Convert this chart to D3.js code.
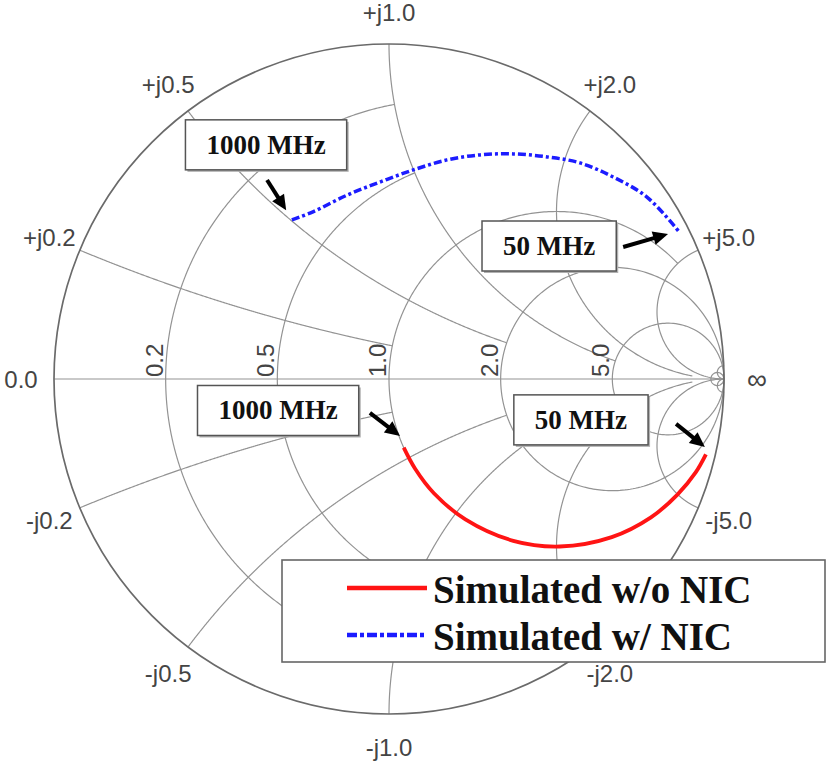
<!DOCTYPE html>
<html><head><meta charset="utf-8">
<script src="https://cdn.jsdelivr.net/npm/d3@7"></script>
<style>html,body{margin:0;padding:0;background:#fff}</style>
</head><body><svg id="c" width="827" height="764"></svg>
<script>
// ---------- data ----------
const resistanceCircles = [0.2, 0.5, 1, 2, 5, 50];
const resistanceCircleXLimit = [1, 1, 5, Infinity, Infinity, Infinity];
const reactanceArcs = [0.2, 0.5, 1, 2, 5, 50];
const reactanceArcRLimit = [1, 2, 5, 20, Infinity, Infinity];
const resistanceTickValues = [0.2, 0.5, 1, 2, 5];
const resistanceTickLabels = ["0.2", "0.5", "1.0", "2.0", "5.0"];
const reactanceTickValues = [0, 0.2, 0.5, 1, 2, 5, Infinity, -5, -2, -1, -0.5, -0.2];
const reactanceTickLabels = ["0.0", "+j0.2", "+j0.5", "+j1.0", "+j2.0", "+j5.0", "\u221E", "-j5.0", "-j2.0", "-j1.0", "-j0.5", "-j0.2"];

const woNIC_re = [0.044, 0.078, 0.134, 0.228, 0.371, 0.510, 0.665, 0.782, 0.861, 0.916, 0.946];
const woNIC_im = [-0.205, -0.268, -0.341, -0.419, -0.483, -0.500, -0.472, -0.413, -0.345, -0.278, -0.225];
const wNIC_re = [-0.290, -0.227, -0.125, -0.027, 0.072, 0.173, 0.272, 0.370, 0.472, 0.570, 0.669, 0.770, 0.869];
const wNIC_im = [0.475, 0.499, 0.549, 0.588, 0.624, 0.654, 0.669, 0.672, 0.663, 0.645, 0.603, 0.543, 0.436];

const seriesNames = ["Simulated w/o NIC", "Simulated w/ NIC"];

// annotations (in reflection-coefficient coordinates)
const annoText = ["1000 MHz", "50 MHz", "1000 MHz", "50 MHz"];
const annoBoxRe = [-0.367, 0.478, -0.331, 0.573];
const annoBoxIm = [0.699, 0.397, -0.094, -0.122];
const arrowTailRe = [-0.364, 0.699, -0.057, 0.857];
const arrowTailIm = [0.594, 0.394, -0.101, -0.134];
const arrowHeadRe = [-0.307, 0.833, 0.033, 0.943];
const arrowHeadIm = [0.504, 0.433, -0.170, -0.203];

// ---------- layout ----------
const W = 827, H = 764;
const cx = 389, cy = 379, R = 335;
const svg = d3.select("#c");
svg.append("rect").attr("width", W).attr("height", H).attr("fill", "#fff");

const xS = d3.scaleLinear().domain([-1, 1]).range([cx - R, cx + R]);
const yS = d3.scaleLinear().domain([-1, 1]).range([cy + R, cy - R]);

function gamma(r, x) {
  if (!isFinite(r)) return [1, 0];
  const d = (r + 1) * (r + 1) + x * x;
  return [(r * r - 1 + x * x) / d, 2 * x / d];
}
const line = d3.line().x(d => xS(d[0])).y(d => yS(d[1]));
const N = 500;

const grid = svg.append("g").attr("fill", "none").attr("stroke", "#939393").attr("stroke-width", 1.2);

// resistance circles
resistanceCircles.forEach((r, i) => {
  const L = resistanceCircleXLimit[i];
  const a = isFinite(L) ? Math.atan(L) : Math.PI / 2 - 1e-9;
  const pts = d3.range(N + 1).map(k => {
    const u = -a + 2 * a * k / N;
    return gamma(r, Math.tan(u));
  });
  if (!isFinite(L)) pts.push(pts[0]);
  grid.append("path").attr("d", line(pts));
});
// reactance arcs
reactanceArcs.forEach((x, i) => {
  const L = reactanceArcRLimit[i];
  const a = isFinite(L) ? Math.atan(L) : Math.PI / 2 - 1e-9;
  [x, -x].forEach(xv => {
    const pts = d3.range(N + 1).map(k => gamma(Math.tan(a * k / N), xv));
    grid.append("path").attr("d", line(pts));
  });
});
// real axis
grid.append("line").attr("x1", xS(-1)).attr("x2", xS(1)).attr("y1", yS(0)).attr("y2", yS(0));
// outer circle
svg.append("circle").attr("cx", xS(0)).attr("cy", yS(0)).attr("r", xS(1) - xS(0))
  .attr("fill", "none").attr("stroke", "#6a6a6a").attr("stroke-width", 1.7);

// ---------- labels ----------
const labelFont = "'Liberation Sans', Arial, sans-serif";
resistanceTickValues.forEach((r, i) => {
  const g = gamma(r, 0);
  const px = xS(g[0]) - 3, py = yS(0) - 2;
  svg.append("text").attr("transform", `translate(${px},${py}) rotate(-90)`)
    .attr("font-family", labelFont).attr("font-size", 24).attr("fill", "#444")
    .attr("text-anchor", "start").text(resistanceTickLabels[i]);
});
reactanceTickValues.forEach((x, i) => {
  const g = gamma(0, isFinite(x) ? x : 1e12);
  const ang = Math.atan2(g[1], g[0]);
  const rr = 1 + 33 / R;
  svg.append("text")
    .attr("x", xS(rr * Math.cos(ang))).attr("y", yS(rr * Math.sin(ang)) + (Math.abs(x) === 1 && x > 0 ? 1 : 0))
    .attr("font-family", labelFont).attr("font-size", isFinite(x) ? 24 : 28).attr("fill", "#444")
    .attr("text-anchor", "middle").attr("dominant-baseline", "central")
    .text(reactanceTickLabels[i]);
});

// ---------- series ----------
const curve = d3.line().x(d => xS(d[0])).y(d => yS(d[1])).curve(d3.curveCatmullRom);
svg.append("path").attr("d", curve(woNIC_re.map((v, i) => [v, woNIC_im[i]])))
  .attr("fill", "none").attr("stroke", "#ff1414").attr("stroke-width", 3.8);
svg.append("path").attr("d", curve(wNIC_re.map((v, i) => [v, wNIC_im[i]])))
  .attr("fill", "none").attr("stroke", "#1c1cff").attr("stroke-width", 3.5)
  .attr("stroke-dasharray", "8,3,3,3");

// ---------- legend ----------
const lg = svg.append("g");
lg.append("rect").attr("x", 282).attr("y", 560).attr("width", 543).attr("height", 102)
  .attr("fill", "#fff").attr("stroke", "#666").attr("stroke-width", 1.6);
const legendColors = ["#ff1414", "#1c1cff"];
const legendDash = [null, "10,3,4,3"];
seriesNames.forEach((name, i) => {
  const y = 588 + i * 47;
  lg.append("line").attr("x1", 347).attr("x2", 427).attr("y1", y).attr("y2", y)
    .attr("stroke", legendColors[i]).attr("stroke-width", 4.5)
    .attr("stroke-dasharray", legendDash[i]);
  lg.append("text").attr("x", 433).attr("y", y + 15)
    .attr("font-family", "'Liberation Serif', 'Times New Roman', serif")
    .attr("font-weight", "bold").attr("font-size", 39).attr("fill", "#111").text(name);
});

// ---------- annotations ----------
annoText.forEach((t, i) => {
  const bx = xS(annoBoxRe[i]), by = yS(annoBoxIm[i]);
  const g = svg.append("g");
  const txt = g.append("text").attr("x", bx).attr("y", by)
    .attr("font-family", "'Liberation Serif', 'Times New Roman', serif")
    .attr("font-weight", "bold").attr("font-size", 27).attr("fill", "#111")
    .attr("text-anchor", "middle").attr("dominant-baseline", "central").text(t);
  const bb = txt.node().getBBox();
  const w = bb.width + 42, h = 50;
  g.insert("rect", "text").attr("x", bx - w / 2 + 2).attr("y", by - h / 2 + 2)
    .attr("width", w).attr("height", h).attr("fill", "#b0b0b0");
  g.insert("rect", "text").attr("x", bx - w / 2).attr("y", by - h / 2)
    .attr("width", w).attr("height", h).attr("fill", "#fff")
    .attr("stroke", "#555").attr("stroke-width", 1.5);

  // arrow
  const x1 = xS(arrowTailRe[i]), y1 = yS(arrowTailIm[i]);
  const x2 = xS(arrowHeadRe[i]), y2 = yS(arrowHeadIm[i]);
  const dx = x2 - x1, dy = y2 - y1, len = Math.hypot(dx, dy);
  const ux = dx / len, uy = dy / len;
  const hl = 15, hw = 7;
  const bxp = x2 - ux * hl, byp = y2 - uy * hl;
  svg.append("line").attr("x1", x1).attr("y1", y1).attr("x2", bxp + ux * 2).attr("y2", byp + uy * 2)
    .attr("stroke", "#000").attr("stroke-width", 4);
  svg.append("path").attr("d",
    `M${x2},${y2}L${bxp - uy * hw},${byp + ux * hw}L${bxp + uy * hw},${byp - ux * hw}Z`)
    .attr("fill", "#000");
});
</script></body></html>
